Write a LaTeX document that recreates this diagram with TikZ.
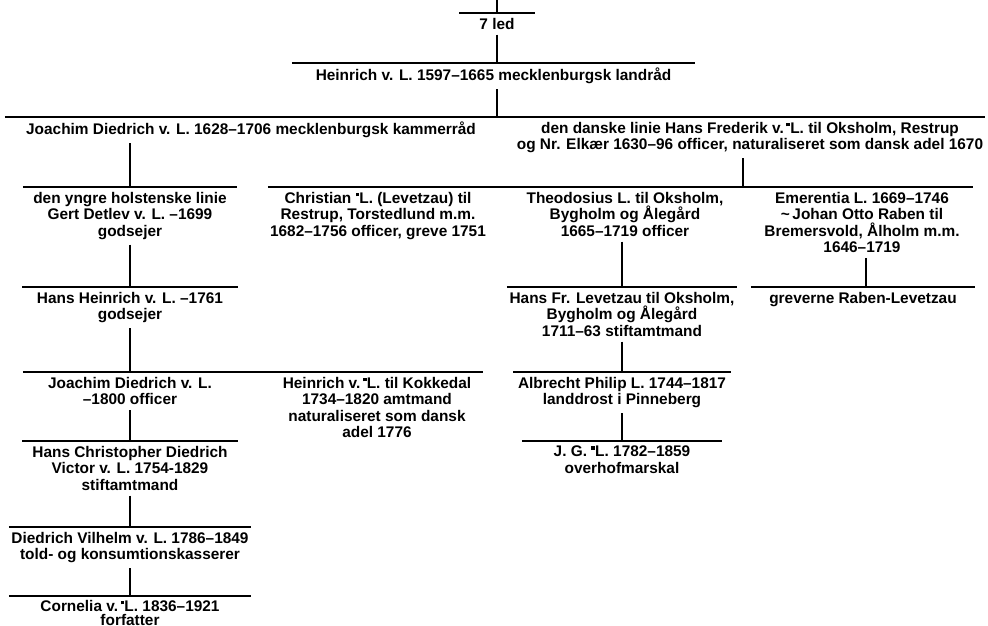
\documentclass[tikz,border=0pt]{standalone}
\usepackage{fontspec}
\setmainfont{Liberation Sans}
\newcommand{\hm}{\raisebox{0.45em}{\rule{0.25em}{0.25em}}}

\begin{document}
\begin{tikzpicture}[x=1pt,y=-1pt,
  person/.style={anchor=north,align=center,inner xsep=0pt,inner ysep=5pt,
    font=\bfseries\fontsize{15.4}{16.4}\selectfont},
  famline/.style={line width=1.1pt}]
  \useasboundingbox (0,0) rectangle (988,626);
  \coordinate (top) at (497,0);
  % persons
  \node[person,minimum width=75pt] (led) at (497,13) {7 led};
  \node[person,minimum width=403pt] (heinrich) at (493.5,63) {Heinrich v. L. 1597–1665 mecklenburgsk landråd};
  \node[person,minimum width=492pt] (joachim) at (251,117) {Joachim Diedrich v. L. 1628–1706 mecklenburgsk kammerråd};
  \node[person,minimum width=470pt] (danske) at (750,117) {den danske linie Hans Frederik v.\,\hm L. til Oksholm, Restrup\\og Nr. Elkær 1630–96 officer, naturaliseret som dansk adel 1670};
  \node[person,minimum width=214pt] (yngre) at (130,187) {den yngre holstenske linie\\Gert Detlev v. L. –1699\\godsejer};
  \node[person,minimum width=220pt] (christian) at (378,187) {Christian \hm L. (Levetzau) til\\Restrup, Torstedlund m.m.\\1682–1756 officer, greve 1751};
  \node[person,minimum width=210pt] (theodosius) at (625,187) {Theodosius L. til Oksholm,\\Bygholm og Ålegård\\1665–1719 officer};
  \node[person,minimum width=222pt] (emerentia) at (862,187) {Emerentia L. 1669–1746\\\textasciitilde\,Johan Otto Raben til\\Bremersvold, Ålholm m.m.\\1646–1719};
  \node[person,minimum width=215pt] (hansheinrich) at (130,287) {Hans Heinrich v. L. –1761\\godsejer};
  \node[person,minimum width=230pt] (hansfr) at (622,287) {Hans Fr. Levetzau til Oksholm,\\Bygholm og Ålegård\\1711–63 stiftamtmand};
  \node[person,minimum width=224pt] (greverne) at (863,287) {greverne Raben-Levetzau};
  \node[person,minimum width=214pt] (joachimdiedrich) at (130,372) {Joachim Diedrich v. L.\\–1800 officer};
  \node[person,minimum width=212pt] (kokkedal) at (377,372) {Heinrich v.\,\hm L. til Kokkedal\\1734–1820 amtmand\\naturaliseret som dansk\\adel 1776};
  \node[person,minimum width=217pt] (albrecht) at (622,372) {Albrecht Philip L. 1744–1817\\landdrost i Pinneberg};
  \node[person,minimum width=215pt] (hanschristopher) at (130,441) {Hans Christopher Diedrich\\Victor v. L. 1754-1829\\stiftamtmand};
  \node[person,minimum width=200pt] (jg) at (622,441) {J. G. \hm L. 1782–1859\\overhofmarskal};
  \node[person,minimum width=242pt] (diedrich) at (130,527) {Diedrich Vilhelm v. L. 1786–1849\\told- og konsumtionskasserer};
  \node[person,minimum width=242pt,inner ysep=4pt,
    font=\bfseries\fontsize{15.4}{14.6}\selectfont] (cornelia) at (130,596) {Cornelia v.\,\hm L. 1836–1921\\forfatter};
  % sibling lines
  \foreach \n in {led,heinrich,yngre,hansheinrich,hansfr,greverne,albrecht,hanschristopher,jg,diedrich,cornelia}
    \draw[famline] (\n.north west) -- (\n.north east);
  \draw[famline] (joachim.north west) -- (danske.north east);
  \draw[famline] (christian.north west) -- (emerentia.north east);
  \draw[famline] (joachimdiedrich.north west) -- (kokkedal.north east);
  % descent
  \draw[famline] (top) -- (led.north);
  \draw[famline] (led.south) -- (led.south |- heinrich.north);
  \draw[famline] (heinrich.south -| led.south) -- (led.south |- joachim.north);
  \draw[famline] (joachim.south -| yngre.north) -- (yngre.north);
  \draw[famline] ([xshift=-7pt]danske.south) -- ([xshift=-7pt]danske.south |- christian.north);
  \draw[famline] (yngre.south) -- (hansheinrich.north);
  \draw[famline] (theodosius.south -| hansfr.north) -- (hansfr.north);
  \draw[famline] ([xshift=4pt]emerentia.south) -- ([xshift=4pt]emerentia.south |- greverne.north);
  \draw[famline] (hansheinrich.south) -- (joachimdiedrich.north);
  \draw[famline] (hansfr.south) -- (albrecht.north);
  \draw[famline] (joachimdiedrich.south) -- (hanschristopher.north);
  \draw[famline] (albrecht.south) -- (jg.north);
  \draw[famline] (hanschristopher.south) -- (diedrich.north);
  \draw[famline] (diedrich.south) -- (cornelia.north);
\end{tikzpicture}
\end{document}
